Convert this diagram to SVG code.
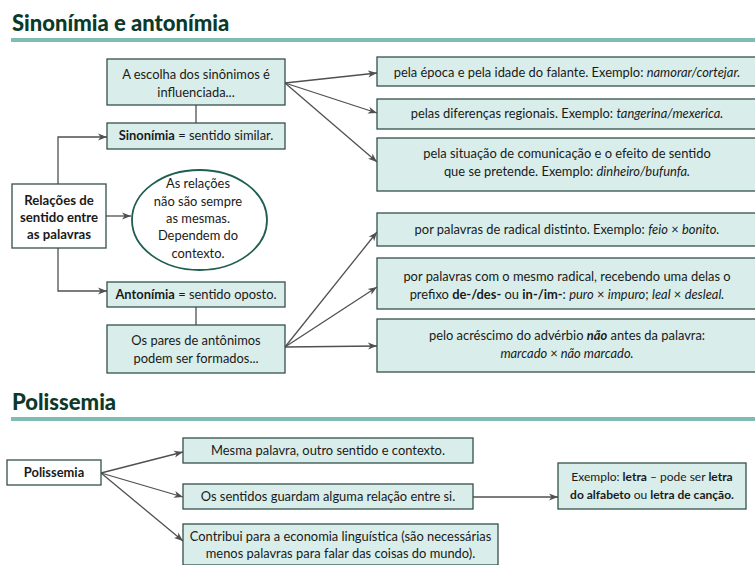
<svg xmlns="http://www.w3.org/2000/svg" width="755" height="565" viewBox="0 0 755 565">
<style>
  .t{font-family:Lato,"Open Sans","Liberation Sans",sans-serif;font-size:12.9px;fill:#1a1a1a}
  .c{text-anchor:middle}
  .b{font-weight:bold}
  .i{font-style:italic}
  .h{font-family:Lato,"Open Sans","Liberation Sans",sans-serif;font-size:22px;font-weight:900;fill:#0b3a2b}
  .bx{fill:#d9eeea;stroke:#33504a;stroke-width:1.3}
  .wb{fill:#ffffff;stroke:#33504a;stroke-width:1.3}
  .ln{fill:none;stroke:#505050;stroke-width:1.3}
  .ar{fill:none;stroke:#505050;stroke-width:1.3;marker-end:url(#ah)}
  .rule{fill:#7fbdb4}
</style>
<defs>
  <marker id="ah" markerUnits="userSpaceOnUse" markerWidth="10" markerHeight="8" refX="9" refY="4" orient="auto">
    <path d="M0,0.5 L9,4 L0,7.5 L2.5,4 Z" fill="#505050"/>
  </marker>
</defs>
<rect width="755" height="565" fill="#ffffff"/>

<g id="title1">
  <text class="h" x="12" y="31">Sinonímia e antonímia</text>
  <rect class="rule" x="11" y="38" width="744" height="4"/>
</g>
<g id="title2">
  <text class="h" x="12" y="410">Polissemia</text>
  <rect class="rule" x="11" y="417" width="744" height="4"/>
</g>

<g id="connectors">
  <line class="ln" x1="196" y1="105" x2="196" y2="123"/>
  <polyline class="ar" points="58,184 58,137 107,137"/>
  <line class="ar" x1="106" y1="216" x2="131" y2="216"/>
  <polyline class="ar" points="58,248 58,291 107,291"/>
  <line class="ln" x1="196" y1="307" x2="196" y2="325"/>
  <line class="ar" x1="285" y1="83" x2="377" y2="73"/>
  <line class="ar" x1="285" y1="83" x2="377" y2="113"/>
  <line class="ar" x1="285" y1="83" x2="377" y2="162"/>
  <line class="ar" x1="285" y1="347" x2="377" y2="232"/>
  <line class="ar" x1="285" y1="347" x2="377" y2="287"/>
  <line class="ar" x1="285" y1="347" x2="377" y2="346"/>
  <line class="ar" x1="101" y1="473" x2="183" y2="452"/>
  <line class="ar" x1="101" y1="473" x2="183" y2="497"/>
  <line class="ar" x1="101" y1="473" x2="183" y2="541"/>
  <line class="ar" x1="473" y1="497" x2="558" y2="497"/>
</g>

<g id="escolha">
  <rect class="bx" x="107" y="59" width="178" height="46"/>
  <text class="t c" x="196" y="79">A escolha dos sinônimos é</text>
  <text class="t c" x="196" y="97">influenciada...</text>
</g>
<g id="sinonimia">
  <rect class="bx" x="107" y="123" width="178" height="26"/>
  <text class="t c" x="196" y="140"><tspan class="b">Sinonímia</tspan> = sentido similar.</text>
</g>
<g id="relacoes">
  <rect class="wb" x="12" y="184" width="94" height="64"/>
  <text class="t c b" x="59" y="205" style="font-size:13.2px">Relações de</text>
  <text class="t c b" x="59" y="222" style="font-size:13.2px">sentido entre</text>
  <text class="t c b" x="59" y="239" style="font-size:13.2px">as palavras</text>
</g>
<g id="contexto">
  <ellipse cx="199.5" cy="220" rx="67.5" ry="50" fill="#ffffff" stroke="#1f5e52" stroke-width="1.8"/>
  <text class="t c" x="198" y="188">As relações</text>
  <text class="t c" x="198" y="206">não são sempre</text>
  <text class="t c" x="198" y="223">as mesmas.</text>
  <text class="t c" x="198" y="240">Dependem do</text>
  <text class="t c" x="198" y="258">contexto.</text>
</g>
<g id="antonimia">
  <rect class="bx" x="107" y="282" width="178" height="25"/>
  <text class="t c" x="196" y="299"><tspan class="b">Antonímia</tspan> = sentido oposto.</text>
</g>
<g id="pares">
  <rect class="bx" x="107" y="325" width="178" height="48"/>
  <text class="t c" x="196" y="345">Os pares de antônimos</text>
  <text class="t c" x="196" y="363">podem ser formados...</text>
</g>

<g id="s1">
  <rect class="bx" x="377" y="57" width="380" height="29"/>
  <text class="t c" x="567" y="77">pela época e pela idade do falante. Exemplo: <tspan class="i">namorar/cortejar.</tspan></text>
</g>
<g id="s2">
  <rect class="bx" x="377" y="99" width="380" height="30"/>
  <text class="t c" x="567" y="118">pelas diferenças regionais. Exemplo: <tspan class="i">tangerina/mexerica.</tspan></text>
</g>
<g id="s3">
  <rect class="bx" x="377" y="138" width="380" height="53"/>
  <text class="t c" x="567" y="158">pela situação de comunicação e o efeito de sentido</text>
  <text class="t c" x="567" y="176">que se pretende. Exemplo: <tspan class="i">dinheiro/bufunfa.</tspan></text>
</g>
<g id="a1">
  <rect class="bx" x="377" y="213" width="380" height="33"/>
  <text class="t c" x="567" y="234">por palavras de radical distinto. Exemplo: <tspan class="i">feio</tspan> × <tspan class="i">bonito.</tspan></text>
</g>
<g id="a2">
  <rect class="bx" x="377" y="258" width="380" height="51"/>
  <text class="t c" x="567" y="281">por palavras com o mesmo radical, recebendo uma delas o</text>
  <text class="t c" x="567" y="299">prefixo <tspan class="b">de-/des-</tspan> ou <tspan class="b">in-/im-</tspan>: <tspan class="i">puro</tspan> × <tspan class="i">impuro</tspan>; <tspan class="i">leal</tspan> × <tspan class="i">desleal.</tspan></text>
</g>
<g id="a3">
  <rect class="bx" x="377" y="319" width="380" height="53"/>
  <text class="t c" x="567" y="340">pelo acréscimo do advérbio <tspan class="b i">não</tspan> antes da palavra:</text>
  <text class="t c i" x="567" y="358">marcado <tspan style="font-style:normal">×</tspan> não marcado.</text>
</g>

<g id="polissemia">
  <rect class="wb" x="7" y="460" width="94" height="25"/>
  <text class="t c b" x="54" y="477">Polissemia</text>
</g>
<g id="p1">
  <rect class="bx" x="183" y="438" width="290" height="25"/>
  <text class="t c" x="328" y="455">Mesma palavra, outro sentido e contexto.</text>
</g>
<g id="p2">
  <rect class="bx" x="183" y="484" width="290" height="25"/>
  <text class="t c" x="328" y="501">Os sentidos guardam alguma relação entre si.</text>
</g>
<g id="p3">
  <rect class="bx" x="183" y="524" width="315" height="41"/>
  <text class="t c" x="340.5" y="541">Contribui para a economia linguística (são necessárias</text>
  <text class="t c" x="340.5" y="558">menos palavras para falar das coisas do mundo).</text>
</g>
<g id="exemplo">
  <rect class="bx" x="558" y="463" width="188" height="46"/>
  <text class="t c" x="652" y="481" style="font-size:12px">Exemplo: <tspan class="b">letra</tspan> – pode ser <tspan class="b">letra</tspan></text>
  <text class="t c" x="652" y="499" style="font-size:12px"><tspan class="b">do alfabeto</tspan> ou <tspan class="b">letra de canção.</tspan></text>
</g>
</svg>
